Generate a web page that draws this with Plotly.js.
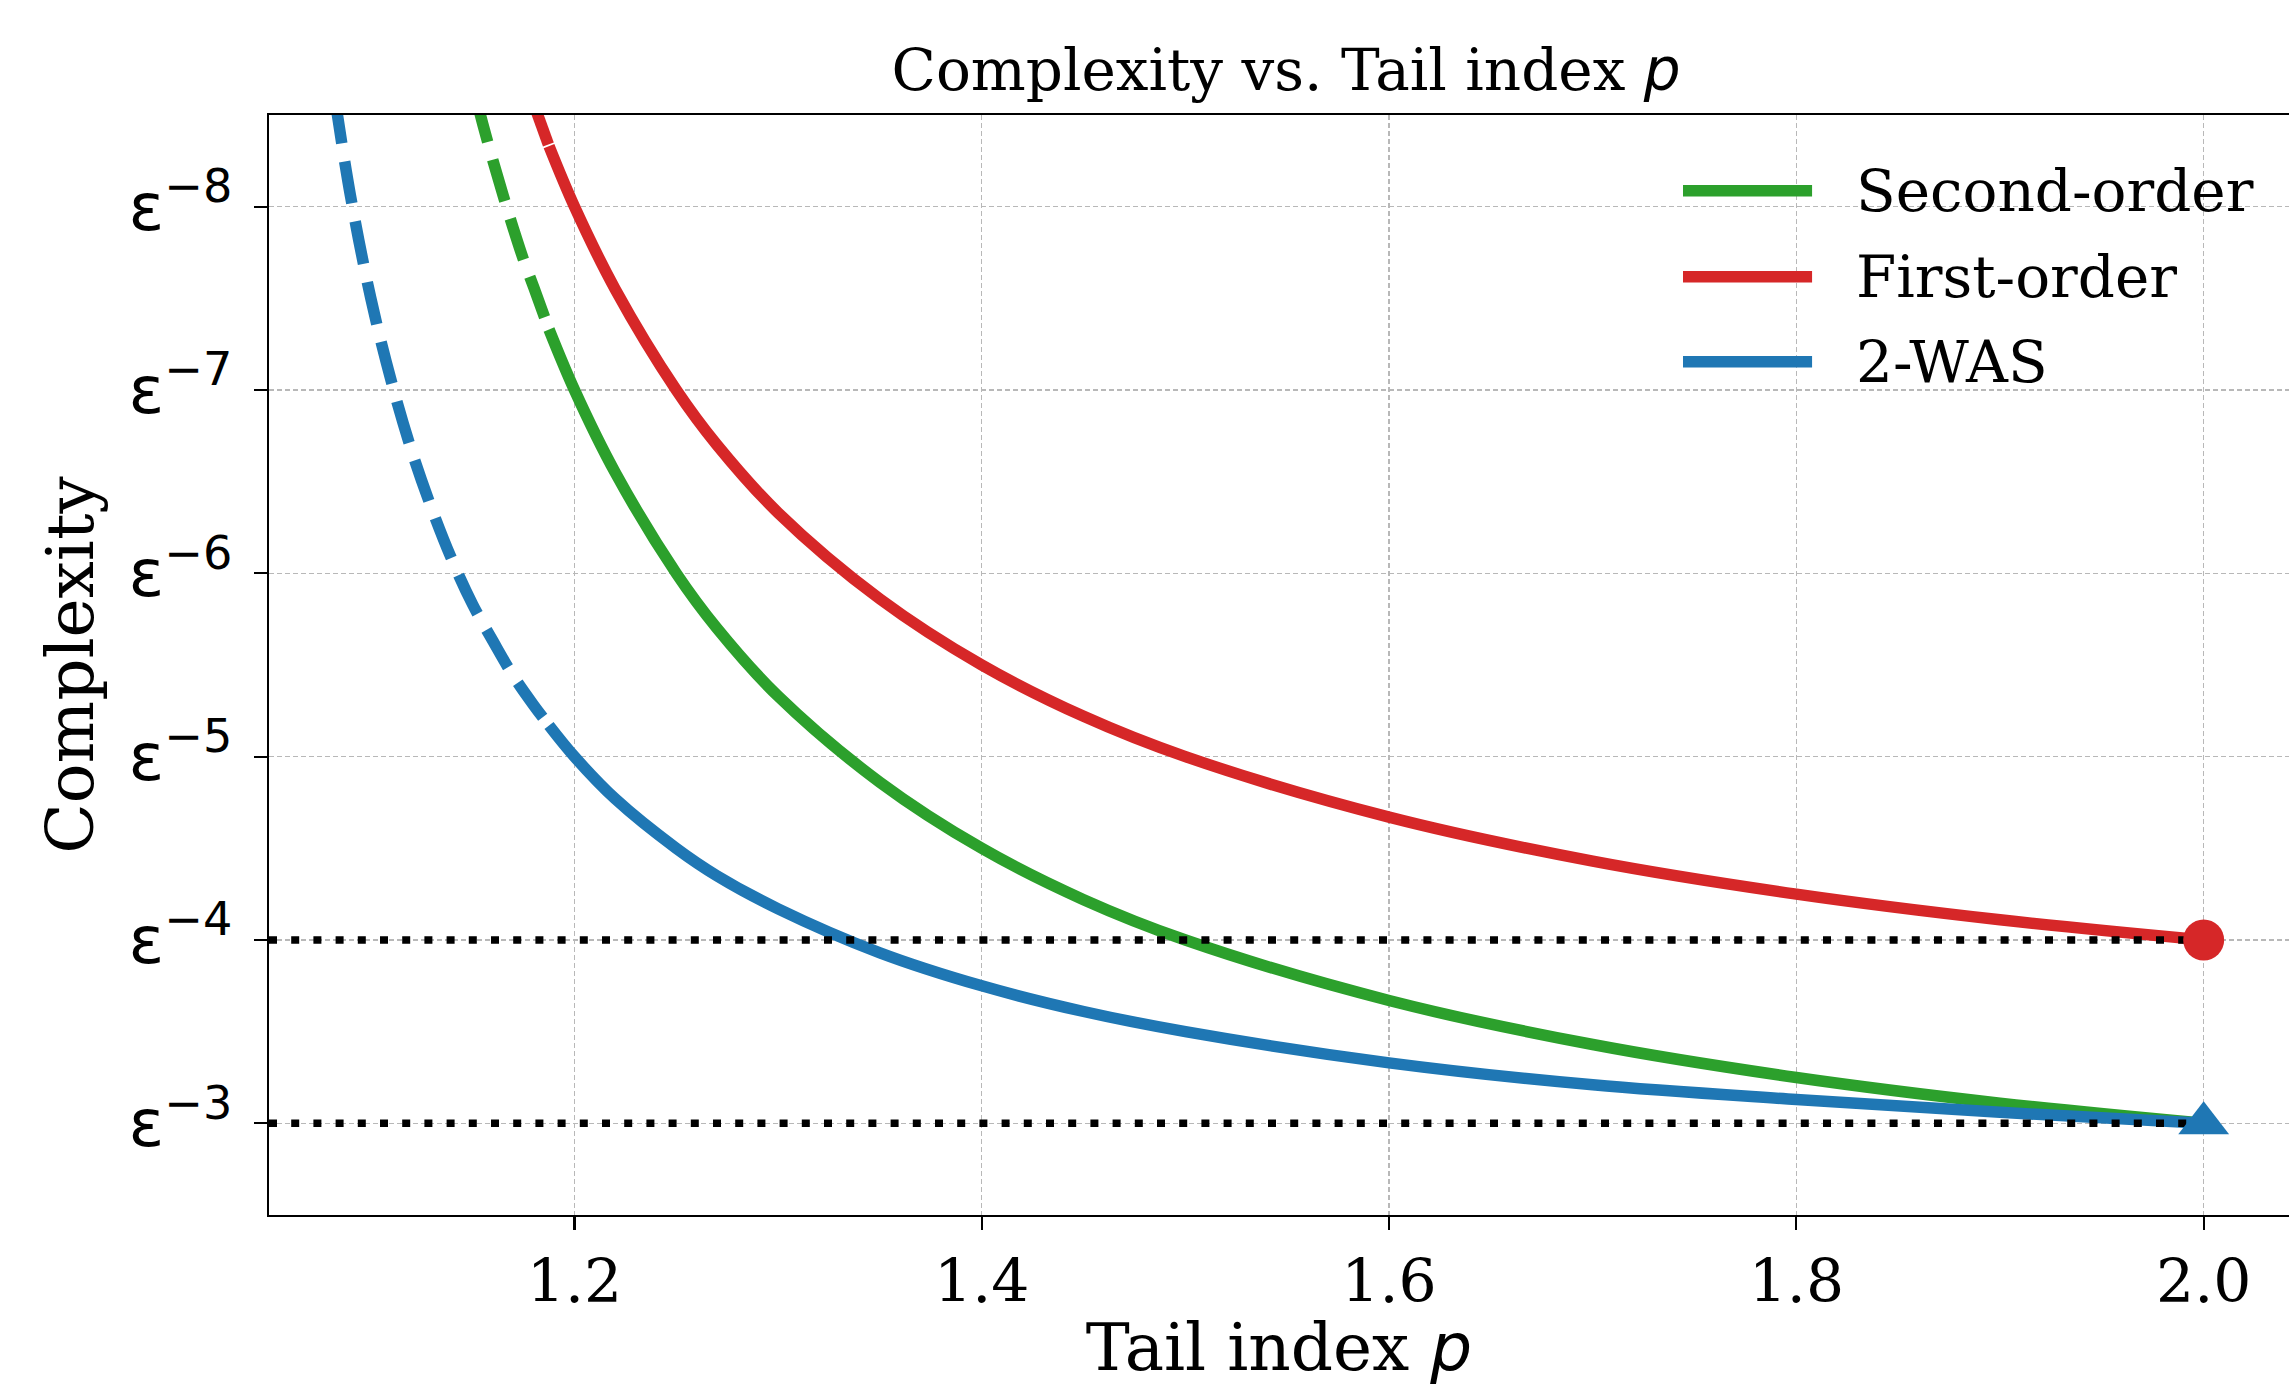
<!DOCTYPE html>
<html><head><meta charset="utf-8">
<script src="https://cdn.plot.ly/plotly-3.0.1.min.js"></script>
<style>html,body{margin:0;padding:0;background:#fff;}</style>
</head><body>
<div id="chart" style="width:2289px;height:1386px;"></div>
<script>
// Tail index p and complexity exponents
const pSecondDashed = [1.152, 1.155, 1.16, 1.165, 1.17, 1.175, 1.18, 1.1875];
const secondDashed  = [8.58, 8.45, 8.25, 8.06, 7.88, 7.71, 7.56, 7.33];
const pFirstDashed  = [1.18, 1.1875];
const firstDashed   = [8.56, 8.33];
const pWasDashed    = [1.0825, 1.09, 1.10, 1.11, 1.12, 1.13, 1.14, 1.15, 1.16, 1.17, 1.18, 1.1875];
const wasDashed     = [8.58, 8.06, 7.50, 7.05, 6.67, 6.35, 6.07, 5.83, 5.63, 5.44, 5.28, 5.17];

const pSolid      = [1.1875, 1.2, 1.22, 1.25, 1.27, 1.3, 1.35, 1.4, 1.45, 1.5, 1.6, 1.7, 1.8, 1.9, 2.0];
const secondSolid = [7.33, 7.00, 6.55, 6.00, 5.70, 5.33, 4.86, 4.50, 4.22, 4.00, 3.67, 3.43, 3.25, 3.11, 3.00];
const firstSolid  = [8.33, 8.00, 7.55, 7.00, 6.70, 6.33, 5.86, 5.50, 5.22, 5.00, 4.67, 4.43, 4.25, 4.11, 4.00];
const wasSolid    = [5.17, 5.00, 4.77, 4.50, 4.35, 4.17, 3.93, 3.75, 3.61, 3.50, 3.33, 3.21, 3.13, 3.06, 3.00];

const refLevels = [4, 3];
const refX = [1.05, 2.0];
const endP = 2.0;
const firstEnd = 4;
const wasEnd = 3;

const seriesNames = ['Second-order', 'First-order', '2-WAS'];
const yTickVals = [3, 4, 5, 6, 7, 8];
const yTickText = ['ε<sup>−3</sup>', 'ε<sup>−4</sup>', 'ε<sup>−5</sup>', 'ε<sup>−6</sup>', 'ε<sup>−7</sup>', 'ε<sup>−8</sup>'];
const xTickVals = [1.2, 1.4, 1.6, 1.8, 2.0];
const xTickText = ['1.2', '1.4', '1.6', '1.8', '2.0'];

const GREEN = '#2ca02c', RED = '#d62728', BLUE = '#1f77b4';
const LW = 11.5;
const DASH = '43px,18.5px';

function curve(x, y, color, dash, name) {
  return {x: x, y: y, type: 'scatter', mode: 'lines', name: name, showlegend: false,
    line: {color: color, width: LW, dash: dash, shape: 'spline', smoothing: 1}, hoverinfo: 'skip'};
}

const traces = [
  curve(pSecondDashed, secondDashed, GREEN, DASH, seriesNames[0]),
  curve(pSolid, secondSolid, GREEN, 'solid', seriesNames[0]),
  curve(pFirstDashed, firstDashed, RED, DASH, seriesNames[1]),
  curve(pSolid, firstSolid, RED, 'solid', seriesNames[1]),
  curve(pWasDashed, wasDashed, BLUE, DASH, seriesNames[2]),
  curve(pSolid, wasSolid, BLUE, 'solid', seriesNames[2]),
];
refLevels.forEach(function (lv) {
  traces.push({x: refX, y: [lv, lv], type: 'scatter', mode: 'lines', showlegend: false,
    line: {color: '#000', width: 7.5, dash: '8px,14.2px'}, hoverinfo: 'skip'});
});
traces.push({x: [endP], y: [firstEnd], type: 'scatter', mode: 'markers', showlegend: false,
  marker: {symbol: 'circle', size: 41, color: RED, line: {width: 0}}, hoverinfo: 'skip'});
traces.push({x: [endP], y: [wasEnd], type: 'scatter', mode: 'markers', showlegend: false,
  marker: {symbol: 'triangle-up', size: 44, color: BLUE, line: {width: 0}}, hoverinfo: 'skip'});

// custom legend (long line samples as in the reference)
const legColors = [GREEN, RED, BLUE];
const legY = [0.9311, 0.8529, 0.7756];
const shapes = [], annotations = [];
legColors.forEach(function (c, i) {
  shapes.push({type: 'line', xref: 'paper', yref: 'paper', x0: 0.700, x1: 0.7639, y0: legY[i], y1: legY[i],
    line: {color: c, width: LW}});
  annotations.push({xref: 'paper', yref: 'paper', x: 0.7847, y: legY[i], xanchor: 'left', yanchor: 'middle',
    text: seriesNames[i], showarrow: false, font: {family: 'DejaVu Serif', size: 58, color: '#000'}});
});

const layout = {
  width: 2289, height: 1386,
  paper_bgcolor: '#fff', plot_bgcolor: '#fff',
  margin: {l: 269, r: 0, t: 115, b: 171, pad: 0},
  showlegend: false,
  title: {text: 'Complexity vs. Tail index <span style="font-family:DejaVu Sans"><i>p</i></span>',
    font: {family: 'DejaVu Serif', size: 58, color: '#000'},
    x: 0.5035, xref: 'paper', xanchor: 'center', y: 0.950, yref: 'container', yanchor: 'middle'},
  xaxis: {range: [1.05, 2.0419], tickvals: xTickVals, ticktext: xTickText,
    tickfont: {family: 'DejaVu Serif', size: 60, color: '#000'},
    ticks: 'outside', ticklen: 13, tickwidth: 2.2, tickcolor: '#000',
    showline: true, linecolor: '#000', linewidth: 2.4, mirror: true,
    showgrid: true, gridcolor: '#b8b8b8', gridwidth: 1.3, griddash: '5px,3px',
    zeroline: false,
    title: {text: 'Tail index <span style="font-family:DejaVu Sans"><i>p</i></span>',
      font: {family: 'DejaVu Serif', size: 66, color: '#000'}, standoff: 6}},
  yaxis: {range: [2.5, 8.5], tickvals: yTickVals, ticktext: yTickText,
    tickfont: {family: 'DejaVu Sans', size: 66, color: '#000'},
    ticks: 'outside', ticklen: 13, tickwidth: 2.2, tickcolor: '#000', ticklabelstandoff: 8,
    showline: true, linecolor: '#000', linewidth: 2.4, mirror: false,
    showgrid: true, gridcolor: '#b8b8b8', gridwidth: 1.3, griddash: '5px,3px',
    zeroline: false,
    title: {text: 'Complexity', font: {family: 'DejaVu Serif', size: 66, color: '#000'}, standoff: 14}},
  shapes: shapes,
  annotations: annotations
};

Plotly.newPlot('chart', traces, layout, {staticPlot: true, displayModeBar: false});
</script>
</body></html>
